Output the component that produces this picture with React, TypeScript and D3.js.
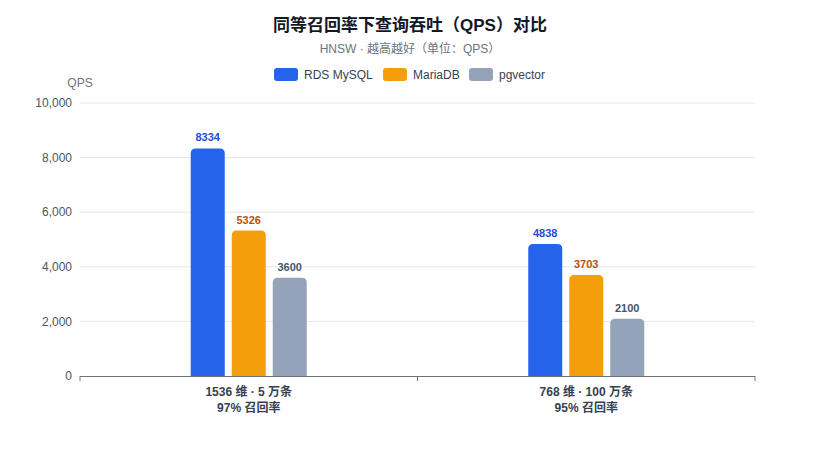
import React from "react";
import * as d3 from "d3";

const categories = [
  ["1536 维 · 5 万条", "97% 召回率"],
  ["768 维 · 100 万条", "95% 召回率"],
];
const seriesNames = ["RDS MySQL", "MariaDB", "pgvector"];
const mysqlQps = [8334, 4838];
const mariaQps = [5326, 3703];
const pgvectorQps = [3600, 2100];
const yTicks = [0, 2000, 4000, 6000, 8000, 10000];

const barColors = ["#2563eb", "#f59e0b", "#94a3b8"];
const labelColors = ["#1d4ed8", "#b45309", "#475569"];
const FONT = "'Liberation Sans', Arial, 'Noto Sans CJK SC', sans-serif";

const width = 819;
const height = 467;
const margin = { top: 103, right: 64, bottom: 91, left: 80 };
const groupWidth = 116;

function topRoundedBar(x: number, y: number, w: number, h: number, r: number) {
  const rr = Math.min(r, h, w / 2);
  return `M${x},${y + h}V${y + rr}Q${x},${y} ${x + rr},${y}H${x + w - rr}Q${x + w},${y} ${x + w},${y + rr}V${y + h}Z`;
}

const App: React.FC = () => {
  const series = [mysqlQps, mariaQps, pgvectorQps];
  const x0 = d3
    .scaleBand<number>()
    .domain(categories.map((_, i) => i))
    .range([margin.left, width - margin.right]);
  const x1 = d3
    .scaleBand<number>()
    .domain(series.map((_, i) => i))
    .range([0, groupWidth])
    .paddingInner(7 / 41)
    .paddingOuter(0);
  const y = d3
    .scaleLinear()
    .domain([0, 10000])
    .range([height - margin.bottom, margin.top]);
  const fmt = d3.format(",");
  const bottom = height - margin.bottom;

  const legendX = [274, 383, 469];

  return (
    <div style={{ position: "absolute", left: 0, top: 0 }}>
      <svg width={width} height={height} style={{ display: "block", background: "#fff" }} fontFamily={FONT}>
        <text x={410} y={31} textAnchor="middle" fontSize={17} fontWeight="bold" fill="#111827">
          同等召回率下查询吞吐（QPS）对比
        </text>
        <text x={410} y={53} textAnchor="middle" fontSize={12} fill="#6b7280">
          HNSW · 越高越好（单位：QPS）
        </text>

        {seriesNames.map((name, i) => (
          <g key={name} transform={`translate(${legendX[i]},68)`}>
            <rect width={24} height={13} rx={3} fill={barColors[i]} />
            <text x={30} y={11} fontSize={12} fill="#374151">
              {name}
            </text>
          </g>
        ))}

        <text x={80} y={87} textAnchor="middle" fontSize={12} fill="#6b7280">
          QPS
        </text>

        {yTicks.map((t) => (
          <g key={t}>
            {t > 0 && (
              <line x1={margin.left} x2={width - margin.right} y1={y(t)} y2={y(t)} stroke="#e5e7eb" strokeWidth={1} />
            )}
            <text x={margin.left - 8} y={y(t)} dy="0.35em" textAnchor="end" fontSize={12} fill="#4b5563">
              {fmt(t)}
            </text>
          </g>
        ))}

        {categories.map((_, ci) => {
          const gx = (x0(ci) ?? 0) + (x0.bandwidth() - groupWidth) / 2;
          return (
            <g key={ci}>
              {series.map((vals, si) => {
                const bx = gx + (x1(si) ?? 0);
                const by = y(vals[ci]);
                return (
                  <g key={si}>
                    <path d={topRoundedBar(bx, by, x1.bandwidth(), bottom - by, 5)} fill={barColors[si]} />
                    <text
                      x={bx + x1.bandwidth() / 2}
                      y={by - 7}
                      textAnchor="middle"
                      fontSize={11}
                      fontWeight="bold"
                      fill={labelColors[si]}
                    >
                      {vals[ci]}
                    </text>
                  </g>
                );
              })}
            </g>
          );
        })}

        <line x1={margin.left} x2={width - margin.right} y1={bottom + 0.5} y2={bottom + 0.5} stroke="#6b7280" />
        {[...categories.map((_, i) => x0(i) ?? 0), width - margin.right].map((tx, i) => (
          <line key={i} x1={tx} x2={tx} y1={bottom} y2={bottom + 5} stroke="#6b7280" />
        ))}

        {categories.map((lines, ci) => {
          const cx = (x0(ci) ?? 0) + x0.bandwidth() / 2;
          return (
            <text key={ci} x={cx} textAnchor="middle" fontSize={12} fontWeight="bold" fill="#374151">
              {lines.map((l, li) => (
                <tspan key={li} x={cx} y={bottom + 20 + li * 16}>
                  {l}
                </tspan>
              ))}
            </text>
          );
        })}
      </svg>
    </div>
  );
};

export default App;
